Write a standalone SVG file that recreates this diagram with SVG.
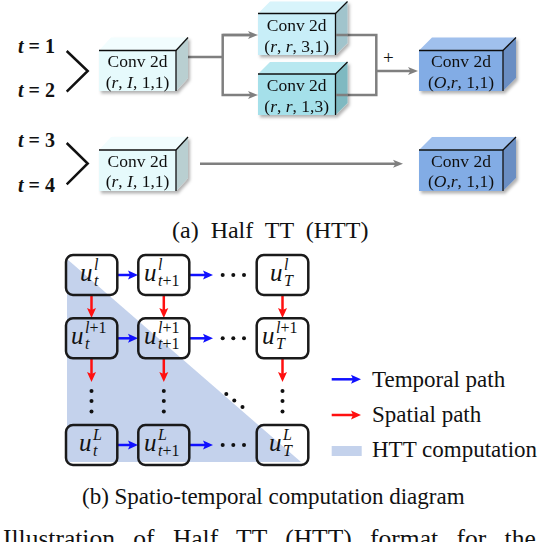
<svg xmlns="http://www.w3.org/2000/svg" width="542" height="542" viewBox="0 0 542 542">
<style>
text{font-family:"Liberation Serif","Times New Roman",serif;fill:#111}
.bx{font-size:17.5px}
.tl{font-size:20px;font-weight:bold}
.cap{font-size:23px}
.lg{font-size:23px}
.m{font-size:25px;font-style:italic}
.s{font-size:16px;font-style:italic}
.edge{fill:none;stroke:#111;stroke-width:1.3}
.gl{fill:none;stroke:#7f7f7f;stroke-width:2.5}
.bl{fill:none;stroke:#1010ff;stroke-width:2.5}
.rl{fill:none;stroke:#ff1010;stroke-width:2.5}
.nd{fill:none;stroke:#1a1a1a;stroke-width:2.5}
.br{fill:none;stroke:#111;stroke-width:2.5}
.dot{fill:#111}
</style>
<defs>
<marker id="ag" viewBox="0 0 10 10" refX="3" refY="5" markerWidth="10" markerHeight="10" markerUnits="userSpaceOnUse" orient="auto"><path d="M0,1 L10,5 L0,9 L2.5,5 z" fill="#7f7f7f"/></marker>
<marker id="ab" viewBox="0 0 10 10" refX="4" refY="5" markerWidth="10" markerHeight="10" markerUnits="userSpaceOnUse" orient="auto"><path d="M0,0.5 L10,5 L0,9.5 L2,5 z" fill="#1010ff"/></marker>
<marker id="ar" viewBox="0 0 10 10" refX="4" refY="5" markerWidth="10" markerHeight="10" markerUnits="userSpaceOnUse" orient="auto"><path d="M0,0.5 L10,5 L0,9.5 L2,5 z" fill="#ff1010"/></marker>
<filter id="sh" x="-10%" y="-10%" width="130%" height="140%"><feDropShadow dx="2" dy="2.5" stdDeviation="1.5" flood-color="#000" flood-opacity="0.3"/></filter>
</defs>
<rect width="542" height="542" fill="#fff"/>

<!-- t labels and brackets -->
<g id="t12">
<text class="tl" x="18" y="53"><tspan font-style="italic">t</tspan> = 1</text>
<text class="tl" x="18" y="97"><tspan font-style="italic">t</tspan> = 2</text>
<polyline class="br" points="66.7,51 87.7,71 66.7,91.7"/>
</g>
<g id="t34">
<text class="tl" x="18" y="147"><tspan font-style="italic">t</tspan> = 3</text>
<text class="tl" x="18" y="192"><tspan font-style="italic">t</tspan> = 4</text>
<polyline class="br" points="66.7,143 87.7,163.5 66.7,184.3"/>
</g>

<!-- connectors (top) -->
<g id="connectors-top">
<polyline class="gl" points="188,57 222.7,57"/>
<polyline class="gl" points="251,35 222.7,35 222.7,95 251,95" marker-end="url(#ag)"/>
<polyline class="gl" points="222.7,35 251,35" marker-end="url(#ag)"/>
<polyline class="gl" points="336,35 376.3,35 376.3,95 336,95"/>
<polyline class="gl" points="376.3,71 411,71" marker-end="url(#ag)"/>
<polyline class="gl" points="200,163.7 396,163.7" marker-end="url(#ag)"/>
<text x="383" y="64" style="font-size:19px">+</text>
</g>

<!-- boxes -->
<g id="box1" filter="url(#sh)">
<polygon points="99,50.5 111,37.5 188,37.5 176,50.5" fill="#f2fdfe"/>
<polygon points="176,50.5 188,37.5 188,78 176,91" fill="#b9cfd1"/>
<rect x="99" y="50.5" width="77" height="40.5" fill="#e6fafc"/>
<polyline class="edge" points="99,50.5 176,50.5 176,91"/>
<line class="edge" x1="176" y1="50.5" x2="188" y2="37.5"/>
<text class="bx" x="137.5" y="67" text-anchor="middle">Conv 2d</text>
<text class="bx" x="137.5" y="87.5" text-anchor="middle">(<tspan font-style="italic">r</tspan>, <tspan font-style="italic">I</tspan>, 1,1)</text>
</g>
<g id="box2" filter="url(#sh)">
<polygon points="99,150 111,137 188,137 176,150" fill="#f2fdfe"/>
<polygon points="176,150 188,137 188,178 176,191" fill="#b9cfd1"/>
<rect x="99" y="150" width="77" height="41" fill="#e6fafc"/>
<polyline class="edge" points="99,150 176,150 176,191"/>
<line class="edge" x1="176" y1="150" x2="188" y2="137"/>
<text class="bx" x="137.5" y="166.5" text-anchor="middle">Conv 2d</text>
<text class="bx" x="137.5" y="187" text-anchor="middle">(<tspan font-style="italic">r</tspan>, <tspan font-style="italic">I</tspan>, 1,1)</text>
</g>
<g id="box3" filter="url(#sh)">
<polygon points="258,13.5 270,1.5 347.5,1.5 335.5,13.5" fill="#d8f4fb"/>
<polygon points="335.5,13.5 347.5,1.5 347.5,43 335.5,55" fill="#a1c4cc"/>
<rect x="258" y="13.5" width="77.5" height="41.5" fill="#c8eef8"/>
<polyline class="edge" points="258,13.5 335.5,13.5 335.5,55"/>
<line class="edge" x1="335.5" y1="13.5" x2="347.5" y2="1.5"/>
<text class="bx" x="296.7" y="31" text-anchor="middle">Conv 2d</text>
<text class="bx" x="296.7" y="51.5" text-anchor="middle">(<tspan font-style="italic">r</tspan>, <tspan font-style="italic">r</tspan>, 3,1)</text>
</g>
<g id="box4" filter="url(#sh)">
<polygon points="258,74 270,62 347.5,62 335.5,74" fill="#b8e8f0"/>
<polygon points="335.5,74 347.5,62 347.5,103 335.5,115" fill="#7fb9c1"/>
<rect x="258" y="74" width="77.5" height="41" fill="#a5e0ea"/>
<polyline class="edge" points="258,74 335.5,74 335.5,115"/>
<line class="edge" x1="335.5" y1="74" x2="347.5" y2="62"/>
<text class="bx" x="296.7" y="91" text-anchor="middle">Conv 2d</text>
<text class="bx" x="296.7" y="111.5" text-anchor="middle">(<tspan font-style="italic">r</tspan>, <tspan font-style="italic">r</tspan>, 1,3)</text>
</g>
<g id="connectors-over">
<line class="gl" x1="336" y1="35" x2="348" y2="35"/>
<line class="gl" x1="336" y1="95" x2="348" y2="95"/>
</g>
<g id="box5" filter="url(#sh)">
<polygon points="419,50.5 432,37.5 516,37.5 503,50.5" fill="#a0c0ed"/>
<polygon points="503,50.5 516,37.5 516,78 503,91" fill="#6a8ec3"/>
<rect x="419" y="50.5" width="84" height="40.5" fill="#82ace5"/>
<polyline class="edge" points="419,50.5 503,50.5 503,91"/>
<line class="edge" x1="503" y1="50.5" x2="516" y2="37.5"/>
<text class="bx" x="461" y="67" text-anchor="middle">Conv 2d</text>
<text class="bx" x="461" y="87.5" text-anchor="middle">(<tspan font-style="italic">O</tspan>,<tspan font-style="italic">r</tspan>, 1,1)</text>
</g>
<g id="box6" filter="url(#sh)">
<polygon points="419,150 432,137 516,137 503,150" fill="#a0c0ed"/>
<polygon points="503,150 516,137 516,178 503,191" fill="#6a8ec3"/>
<rect x="419" y="150" width="84" height="41" fill="#82ace5"/>
<polyline class="edge" points="419,150 503,150 503,191"/>
<line class="edge" x1="503" y1="150" x2="516" y2="137"/>
<text class="bx" x="461" y="166.5" text-anchor="middle">Conv 2d</text>
<text class="bx" x="461" y="187" text-anchor="middle">(<tspan font-style="italic">O</tspan>,<tspan font-style="italic">r</tspan>, 1,1)</text>
</g>

<text x="172" y="238" style="font-size:24px;word-spacing:6px">(a) Half TT (HTT)</text>

<!-- HTT shading -->
<polygon id="htt-region" points="67,259 67,462 301,462" fill="#c4d2ec"/>

<!-- connectors (grid) -->
<g id="connectors-grid">
<line class="bl" x1="117.3" y1="275" x2="132" y2="275" marker-end="url(#ab)"/>
<line class="bl" x1="189.3" y1="275" x2="207" y2="275" marker-end="url(#ab)"/>
<line class="bl" x1="117.3" y1="338.3" x2="132" y2="338.3" marker-end="url(#ab)"/>
<line class="bl" x1="189.3" y1="338.3" x2="207" y2="338.3" marker-end="url(#ab)"/>
<line class="bl" x1="117.3" y1="445" x2="132" y2="445" marker-end="url(#ab)"/>
<line class="bl" x1="189.3" y1="445" x2="207" y2="445" marker-end="url(#ab)"/>
<line class="rl" x1="91.5" y1="295" x2="91.5" y2="312" marker-end="url(#ar)"/>
<line class="rl" x1="163.8" y1="295" x2="163.8" y2="312" marker-end="url(#ar)"/>
<line class="rl" x1="282.5" y1="295" x2="282.5" y2="312" marker-end="url(#ar)"/>
<line class="rl" x1="91.5" y1="358.3" x2="91.5" y2="376" marker-end="url(#ar)"/>
<line class="rl" x1="163.8" y1="358.3" x2="163.8" y2="376" marker-end="url(#ar)"/>
<line class="rl" x1="282.5" y1="358.3" x2="282.5" y2="376" marker-end="url(#ar)"/>
</g>

<!-- ellipses -->
<g id="dots">
<circle class="dot" cx="222.7" cy="275" r="2"/><circle class="dot" cx="233.3" cy="275" r="2"/><circle class="dot" cx="244" cy="275" r="2"/>
<circle class="dot" cx="222.7" cy="338.3" r="2"/><circle class="dot" cx="233.3" cy="338.3" r="2"/><circle class="dot" cx="244" cy="338.3" r="2"/>
<circle class="dot" cx="222.7" cy="445" r="2"/><circle class="dot" cx="233.3" cy="445" r="2"/><circle class="dot" cx="244" cy="445" r="2"/>
<circle class="dot" cx="91.5" cy="391" r="2"/><circle class="dot" cx="91.5" cy="401" r="2"/><circle class="dot" cx="91.5" cy="411.5" r="2"/>
<circle class="dot" cx="163.8" cy="391" r="2"/><circle class="dot" cx="163.8" cy="401" r="2"/><circle class="dot" cx="163.8" cy="411.5" r="2"/>
<circle class="dot" cx="282.5" cy="391" r="2"/><circle class="dot" cx="282.5" cy="401" r="2"/><circle class="dot" cx="282.5" cy="411.5" r="2"/>
<circle class="dot" cx="226.3" cy="394" r="2"/><circle class="dot" cx="234.3" cy="400.5" r="2"/><circle class="dot" cx="242.5" cy="407" r="2"/>
</g>

<!-- nodes -->
<g id="n-t-l"><rect class="nd" x="66" y="255" width="51.3" height="40" rx="7"/>
<text class="m" x="80" y="281">u</text><text class="s" x="94" y="270">l</text><text class="s" x="94" y="286">t</text></g>
<g id="n-t1-l"><rect class="nd" x="138.3" y="255" width="51" height="40" rx="7"/>
<text class="m" x="144" y="281">u</text><text class="s" x="158" y="270">l</text><text class="s" x="158" y="286">t<tspan font-style="normal">+1</tspan></text></g>
<g id="n-T-l"><rect class="nd" x="256.7" y="255" width="51.6" height="40" rx="7"/>
<text class="m" x="270" y="281">u</text><text class="s" x="284" y="270">l</text><text class="s" x="284" y="286">T</text></g>

<g id="n-t-l1"><rect class="nd" x="66" y="318.3" width="51.3" height="40" rx="7"/>
<text class="m" x="71" y="344.3">u</text><text class="s" x="85" y="333.3">l<tspan font-style="normal">+1</tspan></text><text class="s" x="85" y="349.3">t</text></g>
<g id="n-t1-l1"><rect class="nd" x="138.3" y="318.3" width="51" height="40" rx="7"/>
<text class="m" x="144" y="344.3">u</text><text class="s" x="158" y="333.3">l<tspan font-style="normal">+1</tspan></text><text class="s" x="158" y="349.3">t<tspan font-style="normal">+1</tspan></text></g>
<g id="n-T-l1"><rect class="nd" x="256.7" y="318.3" width="51.6" height="40" rx="7"/>
<text class="m" x="262" y="344.3">u</text><text class="s" x="276" y="333.3">l<tspan font-style="normal">+1</tspan></text><text class="s" x="276" y="349.3">T</text></g>

<g id="n-t-L"><rect class="nd" x="66" y="425" width="51.3" height="40" rx="7"/>
<text class="m" x="79" y="451">u</text><text class="s" x="93" y="440">L</text><text class="s" x="93" y="456">t</text></g>
<g id="n-t1-L"><rect class="nd" x="138.3" y="425" width="51" height="40" rx="7"/>
<text class="m" x="144" y="451">u</text><text class="s" x="158" y="440">L</text><text class="s" x="158" y="456">t<tspan font-style="normal">+1</tspan></text></g>
<g id="n-T-L"><rect class="nd" x="256.7" y="425" width="51.6" height="40" rx="7"/>
<text class="m" x="269" y="451">u</text><text class="s" x="283" y="440">L</text><text class="s" x="283" y="456">T</text></g>

<!-- legend -->
<g id="legend">
<line class="bl" x1="331.7" y1="379.3" x2="355" y2="379.3" marker-end="url(#ab)"/>
<text class="lg" x="372" y="386.5">Temporal path</text>
<line class="rl" x1="331.7" y1="415" x2="355" y2="415" marker-end="url(#ar)"/>
<text class="lg" x="372" y="421.5">Spatial path</text>
<rect x="331.7" y="446" width="30" height="10" fill="#c4d2ec"/>
<text class="lg" x="372" y="456.5">HTT computation</text>
</g>

<text class="cap" x="82" y="504">(b) Spatio-temporal computation diagram</text>
<text x="3" y="547" style="font-size:25.5px;word-spacing:12px">Illustration of Half TT (HTT) format for the</text>
</svg>
